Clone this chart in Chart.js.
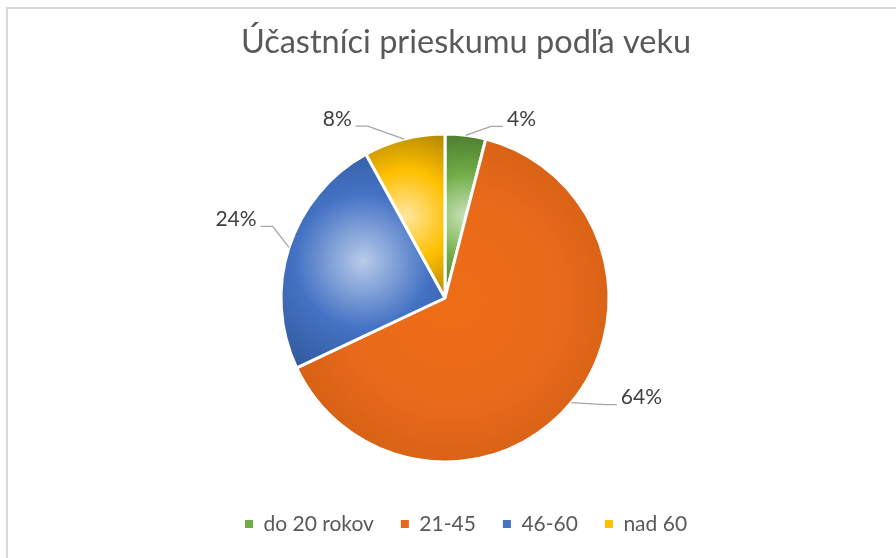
<!DOCTYPE html>
<html>
<head>
<meta charset="utf-8">
<script src="https://cdn.jsdelivr.net/npm/chart.js@4.4.1/dist/chart.umd.min.js"></script>
<style>
  html, body { margin: 0; padding: 0; background: #fff; overflow: hidden; }
  #wrap { position: relative; width: 896px; height: 558px; }
  #frame { position: absolute; left: 6px; top: 7px; width: 900px; height: 560px; border-left: 2px solid #d9d9d9; border-top: 2px solid #d9d9d9; }
  #chart { position: absolute; left: 0; top: 0; }
</style>
</head>
<body>
<div id="wrap">
  <div id="frame"></div>
  <canvas id="chart" width="896" height="558"></canvas>
</div>
<script>
const chartTitle = 'Účastníci prieskumu podľa veku';
const categories = ['do 20 rokov', '21-45', '46-60', 'nad 60'];
const shares = [4, 64, 24, 8];
const flatColors = ['#70AD47', '#E8681A', '#4472C4', '#FFC000'];
const gradientStops = [
  ['#C9E3B9', '#70AD47', '#4B7A2E'],
  ['#EE6D17', '#E8691A', '#C55A11'],
  ['#B8CBEA', '#4472C4', '#2E5596'],
  ['#FFE69E', '#FFC000', '#B08500']
];

const FONT = 'Lato';
const RADIUS = 164;

// bounding box of a slice, used as the centre of its radial gradient
function sliceBox(cx, cy, r, a0, a1) {
  const pts = [[cx, cy], [cx + r * Math.cos(a0), cy + r * Math.sin(a0)], [cx + r * Math.cos(a1), cy + r * Math.sin(a1)]];
  for (let k = -4; k <= 8; k++) {
    const a = k * Math.PI / 2;
    if (a > a0 && a < a1) pts.push([cx + r * Math.cos(a), cy + r * Math.sin(a)]);
  }
  const xs = pts.map(p => p[0]), ys = pts.map(p => p[1]);
  return { x0: Math.min(...xs), x1: Math.max(...xs), y0: Math.min(...ys), y1: Math.max(...ys) };
}

function sliceFill(ctx) {
  const i = ctx.dataIndex;
  const area = ctx.chart.chartArea;
  if (i === undefined) return flatColors[0];
  if (!area) return flatColors[i];
  const cx = (area.left + area.right) / 2;
  const cy = (area.top + area.bottom) / 2;
  const total = shares.reduce((a, b) => a + b, 0);
  const before = shares.slice(0, i).reduce((a, b) => a + b, 0);
  const a0 = -Math.PI / 2 + 2 * Math.PI * before / total;
  const a1 = a0 + 2 * Math.PI * shares[i] / total;
  const b = sliceBox(cx, cy, RADIUS, a0, a1);
  const gx = (b.x0 + b.x1) / 2, gy = (b.y0 + b.y1) / 2;
  const gr = Math.hypot(b.x1 - b.x0, b.y1 - b.y0) / 2;
  const g = ctx.chart.ctx.createRadialGradient(gx, gy, 0, gx, gy, gr);
  const s = gradientStops[i];
  g.addColorStop(0, s[0]);
  g.addColorStop(0.5, s[1]);
  g.addColorStop(1, s[2]);
  return g;
}

// move the pie left of the title/legend centre line
const shiftPie = {
  id: 'shiftPie',
  afterLayout(chart, args, opts) {
    chart.chartArea.left += opts.dx;
    chart.chartArea.right += opts.dx;
  }
};

const outsideLabels = {
  id: 'outsideLabels',
  afterDatasetsDraw(chart, args, opts) {
    const ctx = chart.ctx;
    const meta = chart.getDatasetMeta(0);
    const total = shares.reduce((a, b) => a + b, 0);
    ctx.save();
    ctx.font = `21px ${FONT}`;
    ctx.textAlign = 'center';
    ctx.textBaseline = 'middle';
    meta.data.forEach((arc, i) => {
      const { x, y, startAngle, endAngle, outerRadius } = arc.getProps(['x', 'y', 'startAngle', 'endAngle', 'outerRadius'], true);
      const mid = (startAngle + endAngle) / 2;
      const ex = x + outerRadius * Math.cos(mid);
      const ey = y + outerRadius * Math.sin(mid);
      const [dx, dy] = opts.offsets[i];
      const lx = ex + dx, ly = ey + dy;
      const text = Math.round(shares[i] / total * 100) + '%';
      const w = ctx.measureText(text).width;
      const right = dx > 0;
      const sideX = right ? lx - w / 2 - 4 : lx + w / 2 + 4;
      const elbowX = right ? sideX - 12 : sideX + 12;
      const lineY = ly + 7;
      ctx.strokeStyle = '#A6A6A6';
      ctx.lineWidth = 1.3;
      ctx.beginPath();
      ctx.moveTo(ex, ey);
      ctx.lineTo(elbowX, lineY);
      ctx.lineTo(sideX, lineY);
      ctx.stroke();
      ctx.fillStyle = '#404040';
      ctx.fillText(text, lx, ly);
    });
    ctx.restore();
  }
};

new Chart(document.getElementById('chart'), {
  type: 'pie',
  data: {
    labels: categories,
    datasets: [{
      data: shares,
      backgroundColor: sliceFill,
      borderColor: '#ffffff',
      borderWidth: 3,
      radius: RADIUS
    }]
  },
  options: {
    responsive: false,
    animation: false,
    layout: { padding: { left: 36, right: 0, top: 0, bottom: 13.5 } },
    plugins: {
      shiftPie: { dx: -21 },
      outsideLabels: { offsets: [[56, -16], [70, -5], [-53, -28], [-67, -20]] },
      tooltip: { enabled: false },
      title: {
        display: true,
        text: chartTitle,
        color: '#595959',
        font: { family: FONT, size: 32.5, weight: 'normal' },
        padding: { top: 23, bottom: 47.5 }
      },
      legend: {
        position: 'bottom',
        labels: {
          color: '#595959',
          font: { family: FONT, size: 21 },
          boxWidth: 8,
          boxHeight: 8,
          padding: 27,
          generateLabels: () => categories.map((c, i) => ({
            text: c,
            fillStyle: flatColors[i],
            strokeStyle: flatColors[i],
            lineWidth: 0,
            hidden: false,
            index: i,
            fontColor: '#595959'
          }))
        }
      }
    }
  },
  plugins: [shiftPie, outsideLabels]
});
</script>
</body>
</html>
